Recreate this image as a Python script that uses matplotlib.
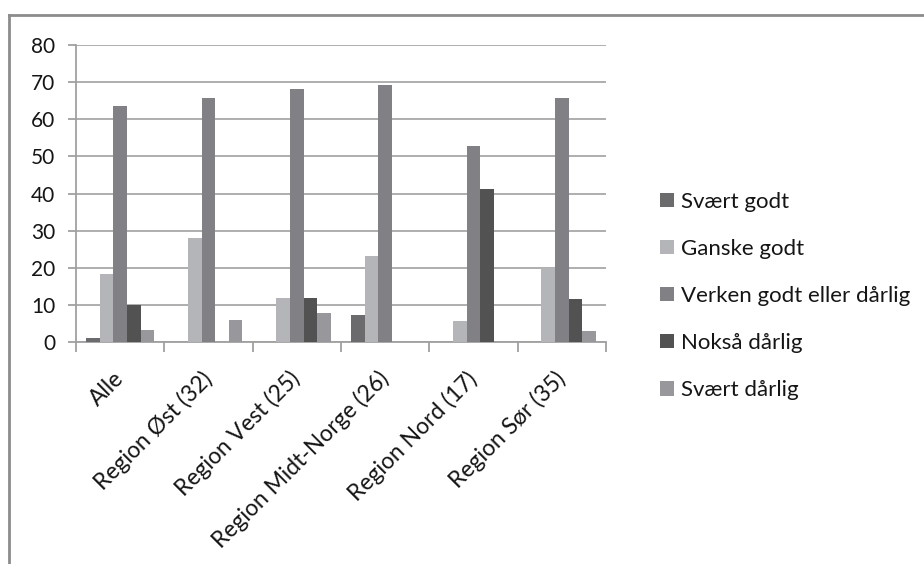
import matplotlib
matplotlib.use("Agg")
import matplotlib.pyplot as plt
from matplotlib.lines import Line2D
import numpy as np

plt.rcParams['font.family'] = ['Lato', 'DejaVu Sans']

regions = ["Alle", "Region Øst (32)", "Region Vest (25)", "Region Midt-Norge (26)",
           "Region Nord (17)", "Region Sør (35)"]
answers = ["Svært godt", "Ganske godt", "Verken godt eller dårlig",
           "Nokså dårlig", "Svært dårlig"]

svaert_godt = [1.1, 0, 0, 7.4, 0, 0]
ganske_godt = [18.4, 28.0, 11.8, 23.2, 5.7, 20.0]
verken = [63.6, 65.6, 68.1, 69.1, 52.9, 65.6]
noksa_darlig = [10.0, 0, 11.8, 0, 41.1, 11.6]
svaert_darlig = [3.2, 6.0, 7.7, 0, 0, 2.9]

series = [svaert_godt, ganske_godt, verken, noksa_darlig, svaert_darlig]
colors = ["#6b6b6d", "#b4b5b9", "#818185", "#525253", "#98989c"]
txt = "#151515"

fig = plt.figure(figsize=(9.24, 5.64), dpi=100)
ax = fig.add_axes([76 / 924, 1 - 342 / 564, 530 / 924, 297 / 564])

x = np.arange(len(regions))
w = 1 / 6.5
for i, (vals, c) in enumerate(zip(series, colors)):
    ax.bar(x + (i - 2) * w, vals, w, color=c, label=answers[i], zorder=3)

ax.set_xlim(-0.5, len(regions) - 0.5)
ax.set_ylim(0, 80)
ax.set_yticks(range(0, 81, 10))
ax.yaxis.grid(True, color="#a8a8a8", linewidth=1.3, zorder=0)

grey = "#a0a0a0"
for s in ["top", "right"]:
    ax.spines[s].set_visible(False)
for s in ["left", "bottom"]:
    ax.spines[s].set_color(grey)
    ax.spines[s].set_linewidth(1.3)

ax.set_xticks(x)
ax.set_xticklabels(regions, rotation=45, ha="right", va="center",
                   rotation_mode="anchor", fontsize=16.5, color=txt)
ax.set_xticks(np.arange(-0.5, len(regions)), minor=True)
ax.tick_params(axis="x", which="major", length=0, pad=24)
ax.tick_params(axis="x", which="minor", length=7, width=1.3, color=grey)
ax.tick_params(axis="y", length=6, width=1.3, color=grey, labelsize=15,
               labelcolor=txt, pad=9)

fig.legend(loc="center left", bbox_to_anchor=(0.693, 0.475), frameon=False,
           fontsize=16, handlelength=0.6, handleheight=0.6,
           handletextpad=0.35, labelspacing=1.22, labelcolor=txt)

# outer chart frame (top and left edges)
fig.add_artist(Line2D([9 / 924, 1], [1 - 15 / 564, 1 - 15 / 564],
                      transform=fig.transFigure, color="#8c8c8c", linewidth=2))
fig.add_artist(Line2D([9 / 924, 9 / 924], [0, 1 - 15 / 564],
                      transform=fig.transFigure, color="#8c8c8c", linewidth=2))

fig.savefig("out.png", dpi=100)
